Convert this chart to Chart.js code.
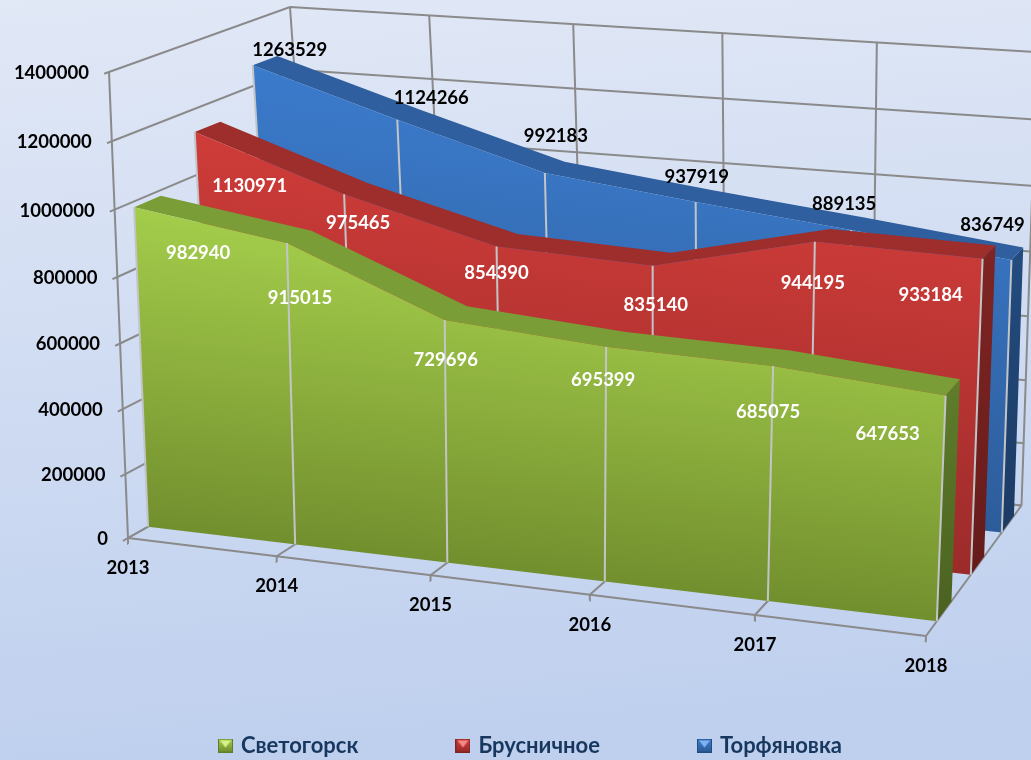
<!DOCTYPE html>
<html>
<head>
<meta charset="utf-8">
<title>Светогорск, Брусничное, Торфяновка</title>
<script src="https://cdn.jsdelivr.net/npm/chart.js@4"></script>
<style>
  html, body { margin: 0; background: #c1d1ee; }
  canvas { display: block; }
</style>
</head>
<body>
<canvas id="chart" width="1031" height="760"></canvas>
<script>
// ── Data ─────────────────────────────────────────────────────────────
const years = ['2013', '2014', '2015', '2016', '2017', '2018'];
const yTicks = [0, 200000, 400000, 600000, 800000, 1000000, 1200000, 1400000];
const svetogorsk = [982940, 915015, 729696, 695399, 685075, 647653];
const brusnichnoe = [1130971, 975465, 854390, 835140, 944195, 933184];
const torfyanovka = [1263529, 1124266, 992183, 937919, 889135, 836749];

// label nudges relative to each point, the 3D labels do not sit on the points
const svetogorskShift = [[64, 46], [13, 55], [1, 40], [-3, 33], [-5, 46], [-58, 38]];
const brusnichnoeShift = [[55, 54], [14, 29], [0, 27], [3, 39], [-2, 41], [-52, 36]];
const torfyanovkaShift = [[37, -15], [34, -22], [11, -37], [1, -25], [-7, -26], [-19, -35]];

// ── Perspective box ──────────────────────────────────────────────────
const yMax = 1400000;
const box = {
  flb: [128, 538], frb: [926, 636], flt: [109, 72], frt: [946, 130],
  blb: [320, 430], brb: [1021.5, 505.5], blt: [290, 7], brt: [1037, 52]
};
const ease = (t, w) => t * (1 + w) / (1 + w * t);
const mix = (a, b, t) => [a[0] + (b[0] - a[0]) * t, a[1] + (b[1] - a[1]) * t];

function project(i, value, depth) {
  const u = ease(i / (years.length - 1), -0.084);
  const v = ease(value / yMax, -0.045);
  const d = ease(depth, 0.05 + 0.1 * u);
  const bottom = mix(mix(box.flb, box.frb, u), mix(box.blb, box.brb, u), d);
  const top = mix(mix(box.flt, box.frt, u), mix(box.blt, box.brt, u), d);
  const p = mix(bottom, top, v);
  return { x: p[0], y: p[1] };
}

// ── Datasets, in painter's order ─────────────────────────────────────
const datasets = [];
const GRID = '#8a8a8a';
const DROP = '#c2c4c8';

function addLine(points, color, width) {
  datasets.push({
    data: points.map(p => project(p[0], p[1], p[2])),
    showLine: true, borderColor: color, borderWidth: width, pointRadius: 0, clip: false
  });
}

function addFace(points, stops, extra) {
  datasets.push(Object.assign({
    data: points.map(p => project(p[0], p[1], p[2])),
    showLine: false, pointRadius: 0, clip: false, stops: stops, backgroundColor: stops[0]
  }, extra));
}

const last = years.length - 1;
// walls and floor
yTicks.forEach(t => {
  addLine([[0, t, -0.025], [0, t, 0], [0, t, 1], [last, t, 1]], GRID, 2);
});
years.forEach((y, i) => {
  addLine([[i, 0, 1], [i, yMax, 1]], GRID, 2);
  addLine([[i, -18000, 0], [i, 0, 0], [i, 0, 1]], GRID, 2);
});
addLine([[0, 0, 0], [0, yMax, 0]], GRID, 2);
addLine([[0, 0, 0], [last, 0, 0]], GRID, 2);
addLine([[0, 0, 1], [last, 0, 1]], GRID, 2);

function swatch(c) {
  const s = document.createElement('canvas');
  s.width = 15; s.height = 14;
  const g = s.getContext('2d');
  g.fillStyle = c.side[0];
  g.fillRect(0, 0, 15, 14);
  const grad = g.createLinearGradient(0, 1, 0, 13);
  grad.addColorStop(0, c.face[0]);
  grad.addColorStop(1, c.face[1]);
  g.fillStyle = grad;
  g.fillRect(1, 1, 13, 12);
  g.fillStyle = c.tri;
  g.beginPath();
  g.moveTo(2, 2); g.lineTo(13, 2); g.lineTo(7.5, 9);
  g.fill();
  return s;
}

function addSeries(name, values, d0, d1, c) {
  const n = values.length - 1;
  const front = values.map((v, i) => [i, v, d0]);
  const back = values.map((v, i) => [i, v, d1]);
  addFace([[n, 0, d0], [n, values[n], d0], [n, values[n], d1], [n, 0, d1]], c.side, { vertical: true });
  addFace(front.concat(back.slice().reverse()), [c.ribbon, c.ribbon], { flat: true });
  addFace([[0, 0, d0]].concat(front, [[n, 0, d0]]), c.face, { label: name, pointStyle: swatch(c) });
  values.forEach((v, i) => addLine([[i, 0, d0], [i, v, d0]], DROP, 2));
}

addSeries('Торфяновка', torfyanovka, 0.77, 0.91, {
  face: ['#3b7bcc', '#2d5c9a'], ribbon: '#2f5f9e', side: ['#234c80', '#1b3b63'], tri: '#7fb2ee'
});
addSeries('Брусничное', brusnichnoe, 0.435, 0.575, {
  face: ['#cf3c39', '#9b2b2a'], ribbon: '#9e2e2c', side: ['#7f2523', '#651b1a'], tri: '#f48a88'
});
addSeries('Светогорск', svetogorsk, 0.10, 0.24, {
  face: ['#a4cd4b', '#728f2e'], ribbon: '#7b9d37', side: ['#5f7d2b', '#4a6120'], tri: '#d8f08a'
});
datasets.forEach((d, i) => { d.order = datasets.length - i; });

// ── Plugins ──────────────────────────────────────────────────────────
// hidden scales run in canvas pixels, the legend height is only known here
const pixelScale = {
  id: 'pixelScale',
  afterLayout(chart) {
    const y = chart.scales.y;
    y.max = chart.chartArea.bottom;
    y.configure();
  }
};

const backdrop = {
  id: 'backdrop',
  beforeDraw(chart) {
    const { ctx, width, height } = chart;
    const g = ctx.createLinearGradient(0, 0, 60, height);
    g.addColorStop(0, '#e1e8f6');
    g.addColorStop(1, '#bfd0ee');
    ctx.save();
    ctx.fillStyle = g;
    ctx.fillRect(0, 0, width, height);
    ctx.restore();
  }
};

// fills the polygons from the points the scales have placed
const faces = {
  id: 'faces',
  beforeDatasetDraw(chart, args) {
    const ds = chart.data.datasets[args.index];
    if (!ds.stops) return;
    const pts = args.meta.data;
    const { ctx } = chart;
    const a = pts[0], b = pts[pts.length - 1];
    let fill = ds.stops[0];
    if (ds.vertical) {
      const ys = pts.map(p => p.y);
      fill = ctx.createLinearGradient(0, Math.min(...ys), 0, Math.max(...ys));
      fill.addColorStop(0, ds.stops[0]);
      fill.addColorStop(1, ds.stops[1]);
    } else if (!ds.flat) {
      const len = Math.hypot(b.x - a.x, b.y - a.y);
      const nx = (b.y - a.y) / len, ny = -(b.x - a.x) / len;
      const h = Math.max(...pts.map(p => (p.x - a.x) * nx + (p.y - a.y) * ny));
      fill = ctx.createLinearGradient(a.x, a.y, a.x + nx * h, a.y + ny * h);
      fill.addColorStop(0, ds.stops[1]);
      fill.addColorStop(1, ds.stops[0]);
    }
    ctx.save();
    ctx.fillStyle = fill;
    ctx.beginPath();
    pts.forEach((p, i) => (i ? ctx.lineTo(p.x, p.y) : ctx.moveTo(p.x, p.y)));
    ctx.closePath();
    ctx.fill();
    ctx.restore();
  }
};

const texts = {
  id: 'texts',
  afterDatasetsDraw(chart) {
    const { ctx, scales } = chart;
    const at = p => [scales.x.getPixelForValue(p.x), scales.y.getPixelForValue(p.y)];
    ctx.save();
    ctx.font = 'bold 18.5px Lato, "Noto Sans", sans-serif';
    ctx.textBaseline = 'middle';
    ctx.fillStyle = '#000';

    ctx.textAlign = 'right';
    yTicks.forEach(t => {
      const [x, y] = at(project(0, t, 0));
      ctx.fillText(String(t), x - 20, y + 1);
    });
    ctx.textAlign = 'center';
    years.forEach((label, i) => {
      const [x, y] = at(project(i, 0, 0));
      ctx.fillText(label, x, y + 30);
    });

    const drawValues = (values, depth, shift, color) => {
      ctx.fillStyle = color;
      values.forEach((v, i) => {
        const [x, y] = at(project(i, v, depth));
        ctx.fillText(String(v), x + shift[i][0], y + shift[i][1]);
      });
    };
    drawValues(torfyanovka, 0.77, torfyanovkaShift, '#000');
    drawValues(brusnichnoe, 0.435, brusnichnoeShift, '#fff');
    drawValues(svetogorsk, 0.10, svetogorskShift, '#fff');
    ctx.restore();
  }
};

// ── Chart ────────────────────────────────────────────────────────────
new Chart(document.getElementById('chart'), {
  type: 'scatter',
  data: { datasets },
  plugins: [pixelScale, backdrop, faces, texts],
  options: {
    responsive: false,
    animation: false,
    events: [],
    layout: { padding: { left: 32, bottom: -6.5 } },
    scales: {
      x: { type: 'linear', display: false, min: 32, max: 1031 },
      y: { type: 'linear', display: false, min: 0, max: 634, reverse: true }
    },
    plugins: {
      tooltip: { enabled: false },
      legend: {
        position: 'bottom',
        labels: {
          usePointStyle: true,
          pointStyleWidth: 9,
          padding: 100,
          color: '#17375e',
          font: { family: 'Lato, "Noto Sans", sans-serif', size: 22, weight: 'bold' },
          filter: item => !!item.text,
          sort: (a, b) => b.datasetIndex - a.datasetIndex
        }
      }
    }
  }
});
</script>
</body>
</html>
